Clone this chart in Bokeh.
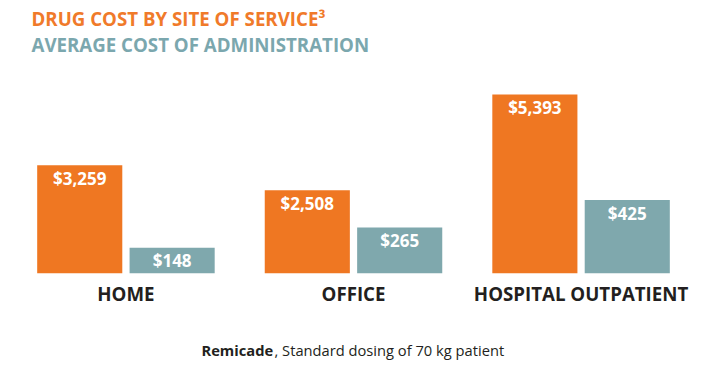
from bokeh.plotting import figure
from bokeh.models import Range1d, Label, ColumnDataSource
from bokeh.transform import dodge
from bokeh.core.properties import value
from bokeh.embed import file_html
from bokeh.resources import INLINE

categories = ["HOME", "OFFICE", "HOSPITAL OUTPATIENT"]
drug_cost = [3259, 2508, 5393]
admin_cost = [148, 265, 425]

ORANGE = "#EF7722"
TEAL = "#7FA8AD"
DARK = "#231F20"
FONT = "Open Sans"

src = ColumnDataSource(dict(
    cat=categories,
    drug=drug_cost,
    admin=admin_cost,
    drug_lbl=[f"${v:,}" for v in drug_cost],
    admin_lbl=[f"${v:,}" for v in admin_cost],
))

# orange series axis; teal series drawn on its own, finer scale
Y_START, Y_END = -3270, 8235
ADMIN_FACTOR = 8000 / 1540

p = figure(width=706, height=381, x_range=categories,
           y_range=Range1d(Y_START, Y_END),
           output_backend="svg", toolbar_location=None,
           min_border=0, min_border_left=0, min_border_right=0,
           min_border_top=0, min_border_bottom=0)
p.x_range.range_padding = 0.0512
p.x_range.range_padding_units = "absolute"
p.extra_y_ranges = {"admin": Range1d(Y_START / ADMIN_FACTOR, Y_END / ADMIN_FACTOR)}

p.vbar(x=dodge("cat", -0.203, range=p.x_range), top="drug", width=0.374, bottom=0,
       source=src, fill_color=ORANGE, line_color=None)
p.vbar(x=dodge("cat", 0.203, range=p.x_range), top="admin", width=0.374, bottom=0,
       source=src, fill_color=TEAL, line_color=None, y_range_name="admin")

lbl_style = dict(text_align="center", text_baseline="alphabetic", y_offset=13,
                 text_color="white", text_font=value(FONT), text_font_style="bold",
                 text_font_size="17px")
p.text(x=dodge("cat", -0.203, range=p.x_range), y="drug", text="drug_lbl", source=src, **lbl_style)
p.text(x=dodge("cat", 0.203, range=p.x_range), y="admin", text="admin_lbl", source=src,
       y_range_name="admin", **lbl_style)

# category labels under each group
p.text(x="cat", y=0, text="cat", source=src, text_align="center", text_baseline="alphabetic",
       y_offset=20, text_color=DARK, text_font=value(FONT), text_font_style="bold",
       text_font_size="18.7px")

p.axis.visible = False
p.grid.visible = False
p.outline_line_color = None

p.add_layout(Label(x=31, y=351, x_units="screen", y_units="screen",
                   text="DRUG COST BY SITE OF SERVICE\u00b3", text_color="#F07A2A",
                   text_font=FONT, text_font_style="bold", text_font_size="18.7px"))
p.add_layout(Label(x=31, y=324.5, x_units="screen", y_units="screen",
                   text="AVERAGE COST OF ADMINISTRATION", text_color="#7BA7AE",
                   text_font=FONT, text_font_style="bold", text_font_size="18.7px"))
p.add_layout(Label(x=201, y=22, x_units="screen", y_units="screen",
                   text="Remicade", text_color=DARK,
                   text_font=FONT, text_font_style="bold", text_font_size="14.7px"))
p.add_layout(Label(x=274, y=22, x_units="screen", y_units="screen",
                   text=", Standard dosing of 70 kg patient", text_color=DARK,
                   text_font=FONT, text_font_size="14.7px"))

p.background_fill_color = "white"
p.border_fill_color = "white"

open("out.html", "w").write(file_html(p, INLINE))
